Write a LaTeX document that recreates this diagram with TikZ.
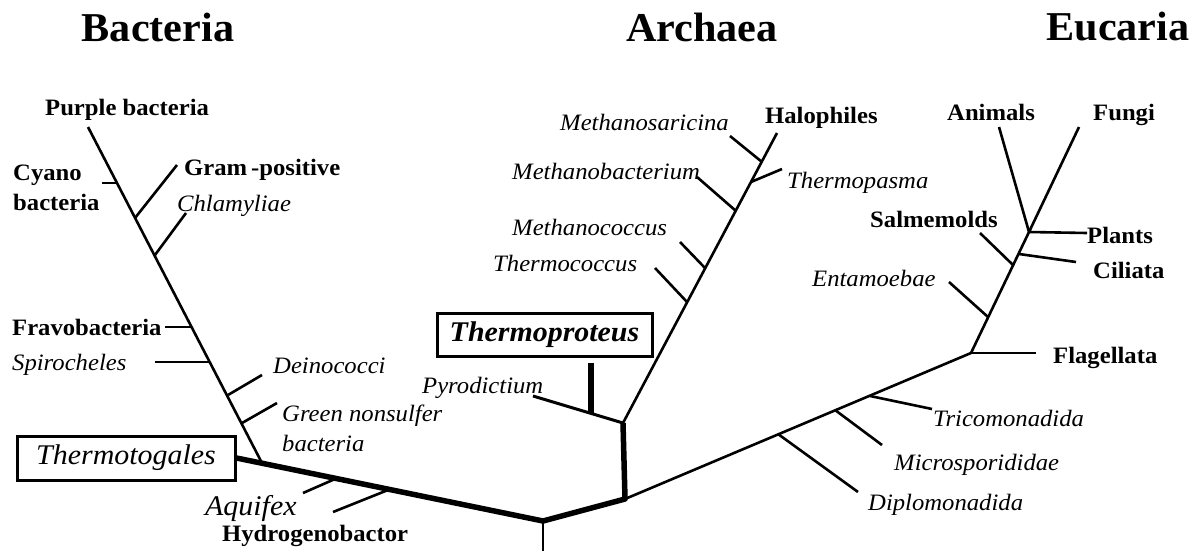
\documentclass[tikz,border=0pt]{standalone}
\usepackage{fontspec}
\setmainfont{Liberation Serif}[FakeStretch=1.05]
\newfontfamily\titlefont{Liberation Serif}[FakeStretch=1.03]
\begin{document}
\begin{tikzpicture}[x=1pt,y=-1pt,
  br/.style={line width=2.6pt},
  trunk/.style={line width=5.5pt, line join=round},
  lab/.style={inner sep=0pt, anchor=west, font=\fontsize{23.5}{28}\selectfont\bfseries, text height=16pt, text depth=0pt},
  ilab/.style={inner sep=0pt, anchor=west, font=\fontsize{23.5}{28}\selectfont\itshape, text height=16pt, text depth=0pt},
  ttl/.style={inner sep=0pt, font=\titlefont\fontsize{41}{48}\selectfont\bfseries},
  boxlab/.style={draw, line width=3pt, inner sep=0pt, font=\fontsize{28.5}{33}\selectfont}
]
\useasboundingbox (0,0) rectangle (1202,551);
\fill[white] (0,0) rectangle (1202,551);

% titles
\node[ttl] (tB) at (158,27) {Bacteria};
\node[ttl] (tA) at (702,27) {Archaea};
\node[ttl] (tE) at (1118,27) {Eucaria};

% ---------- Bacteria ----------
\coordinate (bTop) at (88,127);
\coordinate (bBase) at (263,465);
\coordinate (jCy) at (117,183);   \coordinate (eCy) at (102,183);
\coordinate (jGr) at (135,218);   \coordinate (eGr) at (177,165);
\coordinate (jCh) at (155,255);   \coordinate (eCh) at (186,213);
\coordinate (jFr) at (192,327);   \coordinate (eFr) at (165,327);
\coordinate (jSp) at (210,362);   \coordinate (eSp) at (155,362);
\coordinate (jDe) at (228,395);   \coordinate (eDe) at (262,375);
\coordinate (jGn) at (242,423);   \coordinate (eGn) at (277,403);
\draw[br] (bTop) -- (bBase);
\draw[br] (jCy) -- (eCy);
\draw[br] (jGr) -- (eGr);
\draw[br] (jCh) -- (eCh);
\draw[br] (jFr) -- (eFr);
\draw[br] (jSp) -- (eSp);
\draw[br] (jDe) -- (eDe);
\draw[br] (jGn) -- (eGn);

\node[lab] (purple) at (45,107) {Purple bacteria};
\node[lab, align=left, font=\fontsize{23.5}{30}\selectfont\bfseries, text height=] (cyano) at (13,188) {Cyano\\bacteria};
\node[lab] (gram) at (184,167) {Gram\,-positive};
\node[ilab] (chlam) at (177,203) {Chlamyliae};
\node[lab] (frav) at (12,327) {Fravobacteria};
\node[ilab] (spiro) at (12,362) {Spirocheles};
\node[ilab] (deino) at (273,365) {Deinococci};
\node[ilab] (green) at (282,413) {Green nonsulfer};
\node[ilab] (greenb) at (282,443) {bacteria};

\node[boxlab, minimum width=218pt, minimum height=44pt, font=\fontsize{28.5}{33}\selectfont\itshape] (tg) at (126,458) {Thermotogales};
\node[ilab, font=\fontsize{28.5}{33}\selectfont\itshape, text height=20pt] (aqui) at (205,505) {Aquifex};
\node[lab] (hydro) at (222,533) {Hydrogenobactor};

% ---------- trunk ----------
\coordinate (root) at (543,521);
\coordinate (rootEnd) at (543,551);
\coordinate (eNode) at (625,499);
\coordinate (aNode) at (623,423);
\draw[trunk] (tg.east) -- (root) -- (eNode) -- (aNode);
\draw[br] (root) -- (rootEnd);
\coordinate (jAq) at (335,479);  \coordinate (eAq) at (303,493);
\coordinate (jHy) at (388,490);  \coordinate (eHy) at (333,512);
\draw[br] (jAq) -- (eAq);
\draw[br] (jHy) -- (eHy);

% ---------- Archaea ----------
\coordinate (aTop) at (777,133);
\draw[br] (aNode) -- (aTop);
\coordinate (jTc) at (687,302);  \coordinate (eTc) at (655,268);
\coordinate (jMc) at (705,268);  \coordinate (eMc) at (680,242);
\coordinate (jMb) at (736,211);  \coordinate (eMb) at (697,177);
\coordinate (jTp) at (751,182);  \coordinate (eTp) at (782,169);
\coordinate (jMs) at (762,162);  \coordinate (eMs) at (730,136);
\draw[br] (jTc) -- (eTc);
\draw[br] (jMc) -- (eMc);
\draw[br] (jMb) -- (eMb);
\draw[br] (jTp) -- (eTp);
\draw[br] (jMs) -- (eMs);
\coordinate (ePy) at (533,396);
\draw[line width=3pt] (aNode) -- (ePy);
\coordinate (jTpr) at (591,413);
\node[boxlab, minimum width=215pt, minimum height=43pt, font=\fontsize{28.5}{33}\selectfont\bfseries\itshape] (tp) at (544.5,334.5) {Thermoproteus};
\coordinate (eTpr) at (591,363);
\draw[line width=5.5pt] (jTpr) -- (eTpr);

\node[lab] (halo) at (765,115) {Halophiles};
\node[ilab] (msar) at (560,122) {Methanosaricina};
\node[ilab] (mbac) at (512,171) {Methanobacterium};
\node[ilab] (tpas) at (787,180) {Thermopasma};
\node[ilab] (mcoc) at (512,227) {Methanococcus};
\node[ilab] (tcoc) at (493,263) {Thermococcus};
\node[ilab] (pyro) at (422,385) {Pyrodictium};

% ---------- Eucaria ----------
\coordinate (fNode) at (971,353);
\coordinate (uNode) at (1029,232);
\draw[br] (eNode) -- (fNode) -- (uNode);
\coordinate (jDi) at (778,434);  \coordinate (eDi) at (858,492);
\coordinate (jMi) at (835,410);  \coordinate (eMi) at (882,445);
\coordinate (jTr) at (870,396);  \coordinate (eTr) at (932,409);
\coordinate (eFl) at (1036,353);
\coordinate (jEn) at (988,317);  \coordinate (eEn) at (949,282);
\coordinate (jSa) at (1013,265); \coordinate (eSa) at (980,233);
\coordinate (jCi) at (1019,254); \coordinate (eCi) at (1076,262);
\coordinate (ePl) at (1087,233);
\coordinate (eAn) at (999,127);
\coordinate (eFu) at (1079,127);
\draw[br] (jDi) -- (eDi);
\draw[br] (jMi) -- (eMi);
\draw[br] (jTr) -- (eTr);
\draw[br] (fNode) -- (eFl);
\draw[br] (jEn) -- (eEn);
\draw[br] (jSa) -- (eSa);
\draw[br] (jCi) -- (eCi);
\draw[br] (uNode) -- (ePl);
\draw[br] (uNode) -- (eAn);
\draw[br] (uNode) -- (eFu);

\node[lab] (anim) at (947,113) {Animals};
\node[lab] (fungi) at (1093,113) {Fungi};
\node[lab] (salm) at (870,219) {Salmemolds};
\node[lab] (plants) at (1087,235) {Plants};
\node[lab] (cil) at (1093,270) {Ciliata};
\node[ilab] (ent) at (812,278) {Entamoebae};
\node[lab] (flag) at (1053,355) {Flagellata};
\node[ilab] (tric) at (933,418) {Tricomonadida};
\node[ilab] (micro) at (894,462) {Microsporididae};
\node[ilab] (dipl) at (868,502) {Diplomonadida};
\end{tikzpicture}
\end{document}
